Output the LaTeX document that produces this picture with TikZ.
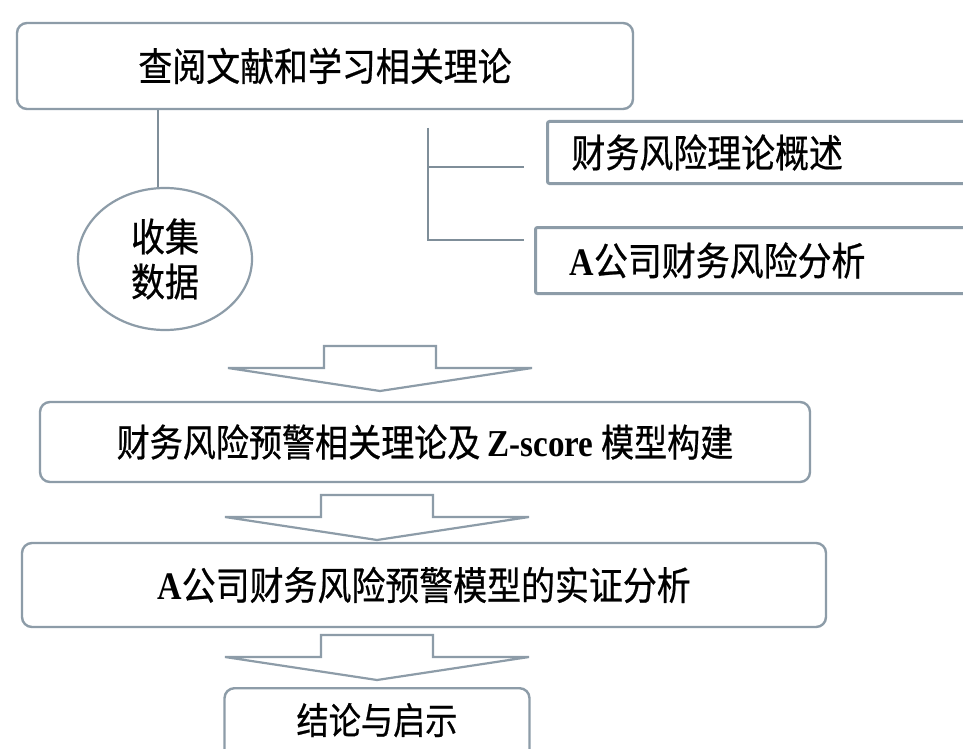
\documentclass[tikz,border=0pt]{standalone}
\usepackage{fontspec}
\setmainfont{Liberation Serif}[FakeStretch=0.87]
\newfontfamily\cjk{Noto Sans CJK SC}[FakeStretch=0.87, FakeBold=0.6]
\usetikzlibrary{shapes.geometric}
\definecolor{edgec}{HTML}{8D9CA8}
\definecolor{linec}{HTML}{7F8E99}
\tikzset{
  rbox/.style={draw=edgec, line width=2.4pt, rounded corners=10pt, fill=white, inner sep=0pt,
    font=\cjk\fontsize{39}{44}\selectfont},
  sbox/.style={draw=edgec, line width=3pt, rounded corners=2pt, fill=white, inner ysep=0pt,
    font=\cjk\fontsize{39}{44}\selectfont},
  conn/.style={draw=linec, line width=2.6pt},
  arr/.style={draw=edgec, line width=2.2pt, fill=white, line join=miter},
  blockarrow/.pic={\draw[arr] (-56,-45) -- (56,-45) -- (56,-23) -- (152,-23) -- (0,0)
      -- (-152,-23) -- (-56,-23) -- cycle;}
}
\begin{document}
\begin{tikzpicture}[x=1pt,y=-1pt]
\clip (0,0) rectangle (963,749);
\fill[white] (0,0) rectangle (963,749);

% top box
\node[rbox, minimum width=616, minimum height=86] (top) at (325,66) {查阅文献和学习相关理论};

% circle
\node[ellipse, draw=edgec, line width=2.2pt, fill=white, minimum width=174, minimum height=142,
  inner sep=0pt, align=center, font=\cjk\fontsize{39}{45}\selectfont] (circ) at (165,259) {收集\\数据};
\coordinate (L1) at (158,0);
\draw[conn] (top.south -| L1) -- (circ.north -| L1);

% right branch boxes
\node[sbox, anchor=north west, minimum height=62, text width=392, inner xsep=24, align=left]
  (b2) at (546,120) {财务风险理论概述};
\node[sbox, anchor=north west, minimum height=66, text width=392, inner xsep=34, align=left]
  (b3) at (534,226) {{\rmfamily\bfseries A}公司财务风险分析};

\coordinate (bt) at (428,128);
\coordinate (h1) at (524,167);
\coordinate (h2) at (524,240);
\draw[conn] (bt) |- (h2);
\draw[conn] (bt |- h1) -- (h1);

% block arrows
\pic at (380,391) {blockarrow};
\pic at (377,540) {blockarrow};
\pic at (377,680) {blockarrow};

% main boxes
\node[rbox, minimum width=770, minimum height=80, font=\cjk\fontsize{38}{44}\selectfont]
  (b4) at (425,442) {财务风险预警相关理论及 {\rmfamily\bfseries Z-score} 模型构建};
\node[rbox, minimum width=804, minimum height=84]
  (b5) at (424,585) {{\rmfamily\bfseries A}公司财务风险预警模型的实证分析};
\node[rbox, anchor=north, minimum width=305, text height=46, text depth=40,
  font=\cjk\fontsize{37}{44}\selectfont] (b6) at (377,687) {结论与启示};
\end{tikzpicture}
\end{document}
